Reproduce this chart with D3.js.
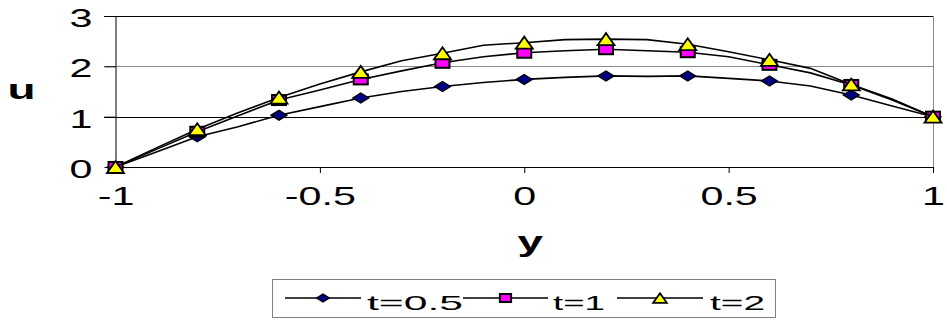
<!DOCTYPE html>
<html><head><meta charset="utf-8">
<script src="https://cdn.jsdelivr.net/npm/d3@7"></script>
<style>
body{margin:0;background:#fff;}
text{font-family:"Liberation Sans",Arial,sans-serif;}
</style></head>
<body><svg id="c" width="947" height="320"></svg>
<script>
// ---- data ----
const yPos = [-1,-0.9,-0.8,-0.7,-0.6,-0.5,-0.4,-0.3,-0.2,-0.1,0,0.1,0.2,0.3,0.4,0.5,0.6,0.7,0.8,0.9,1];
const seriesNames = ["t=0.5","t=1","t=2"];
const uT05 = [0,0.30,0.60,0.80,1.03,1.20,1.37,1.50,1.60,1.68,1.74,1.78,1.81,1.80,1.81,1.76,1.71,1.61,1.43,1.21,1];
const uT1  = [0,0.35,0.70,1.02,1.33,1.53,1.74,1.91,2.07,2.19,2.27,2.31,2.34,2.31,2.28,2.19,2.03,1.87,1.63,1.33,1];
const uT2  = [0,0.38,0.75,1.08,1.38,1.65,1.89,2.11,2.26,2.42,2.47,2.53,2.54,2.53,2.44,2.29,2.13,1.96,1.64,1.35,1];
const xTicks = [-1,-0.5,0,0.5,1];
const xTickLabels = ["-1","-0.5","0","0.5","1"];
const yTicks = [0,1,2,3];
const yTickLabels = ["0","1","2","3"];
const xTitle = "y", yTitle = "u";

const svg = d3.select("#c");
const x = d3.scaleLinear().domain([-1,1]).range([115.5,933]);
const y = d3.scaleLinear().domain([0,3]).range([167,16]);
const SX = 1.65;

// gridlines / frame
const g = svg.append("g");
yTicks.filter(v=>v>0).forEach(v=>{
  g.append("line").attr("x1",104).attr("x2",x(1)).attr("y1",Math.round(y(v))+0.5).attr("y2",Math.round(y(v))+0.5)
   .attr("stroke", v===2 ? "#8a8a8a" : "#000").attr("stroke-width",1);
});
g.append("line").attr("x1",x(1)+0.5).attr("x2",x(1)+0.5).attr("y1",y(3)).attr("y2",y(0)).attr("stroke","#8a8a8a");

// x axis
const xa = svg.append("g").attr("transform",`translate(0,${y(0)})`)
  .call(d3.axisBottom(x).tickValues(xTicks).tickSize(6).tickSizeOuter(0).tickPadding(14)
    .tickFormat((d,i)=>xTickLabels[i]));
xa.select(".domain").attr("stroke","#000");
xa.selectAll(".tick line").attr("stroke","#000");
xa.selectAll(".tick text").attr("font-size",25).attr("fill","#000").attr("transform",`scale(${SX},1)`)
  .attr("font-family","Liberation Sans, Arial, sans-serif");

// y axis
const ya = svg.append("g").attr("transform",`translate(${x(-1)},0)`)
  .call(d3.axisLeft(y).tickValues(yTicks).tickSize(11).tickSizeOuter(0).tickFormat((d,i)=>yTickLabels[i]));
ya.select(".domain").attr("stroke","#000");
ya.selectAll(".tick line").attr("stroke","#000");
ya.selectAll(".tick text").attr("font-size",25).attr("fill","#000").attr("x",-23/SX).attr("dy","0.42em")
  .attr("transform",`scale(${SX},1)`).attr("font-family","Liberation Sans, Arial, sans-serif");

// titles
svg.append("text").attr("transform",`translate(21.5,99) scale(1.7,1)`).attr("text-anchor","middle")
  .attr("font-size",27).attr("font-weight","bold").text(yTitle);
svg.append("text").attr("transform",`translate(${x(0)+6},251) scale(1.7,1)`).attr("text-anchor","middle")
  .attr("font-size",27).attr("font-weight","bold").text(xTitle);

// marker shapes
function marker(sel, type, cx, cy, big){
  const k = big ? 1 : 0.8;
  if(type===0){
    const w=8*k, h=5*k;
    sel.append("path").attr("d",`M${cx-w},${cy}L${cx},${cy-h}L${cx+w},${cy}L${cx},${cy+h}Z`)
      .attr("fill","#000080").attr("stroke","#000").attr("stroke-width",1.3);
  } else if(type===1){
    const w=7*k, h=5*k;
    sel.append("rect").attr("x",cx-w).attr("y",cy-h).attr("width",2*w).attr("height",2*h)
      .attr("fill","#ff00ff").attr("stroke","#000").attr("stroke-width",2);
  } else {
    const w=8.5*k, h=6*k;
    sel.append("path").attr("d",`M${cx-w},${cy+h}L${cx},${cy-h}L${cx+w},${cy+h}Z`)
      .attr("fill","#ffff00").attr("stroke","#000").attr("stroke-width",1.8).attr("stroke-linejoin","miter");
  }
}

const series = [uT05, uT1, uT2];
const line = d3.line().x((d,i)=>x(yPos[i])).y(d=>y(d));
series.forEach((vals, si)=>{
  const sg = svg.append("g");
  sg.append("path").attr("d", line(vals)).attr("fill","none").attr("stroke","#000").attr("stroke-width",1.6);
  vals.forEach((v,i)=>{ if(i%2===0) marker(sg, si, x(yPos[i]), y(v), true); });
});

// legend
const lg = svg.append("g");
lg.append("rect").attr("x",272.5).attr("y",279.5).attr("width",503).attr("height",38)
  .attr("fill","#fff").attr("stroke","#808080").attr("stroke-width",1);
const legItems = [
  {x1:285,x2:361,tx:367,tw:96},
  {x1:463,x2:548,tx:553,tw:52},
  {x1:617,x2:703,tx:710,tw:55}
];
legItems.forEach((it,i)=>{
  lg.append("line").attr("x1",it.x1).attr("x2",it.x2).attr("y1",298).attr("y2",298).attr("stroke","#000").attr("stroke-width",1.5);
  marker(lg, i, (it.x1+it.x2)/2, 298, false);
  lg.append("text").attr("x",it.tx).attr("y",310).attr("font-size",21).attr("fill","#000")
    .attr("textLength",it.tw).attr("lengthAdjust","spacingAndGlyphs").text(seriesNames[i]);
});
</script></body></html>
